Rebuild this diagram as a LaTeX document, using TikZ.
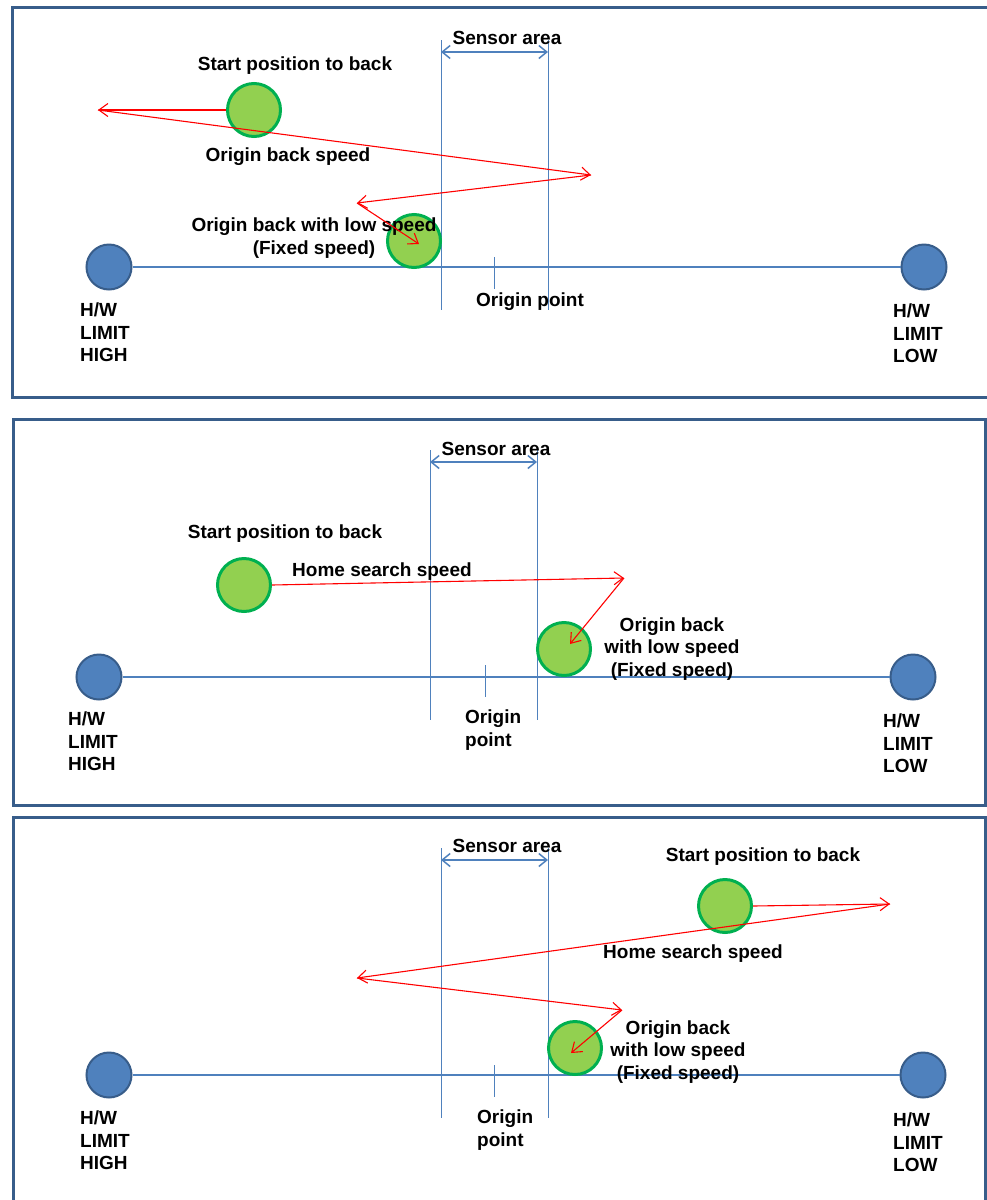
\documentclass[tikz,border=0pt]{standalone}
\usepackage{fontspec}
\setmainfont{Liberation Sans}
\usepackage{tikz}
\usetikzlibrary{arrows.meta,positioning}
\definecolor{framec}{RGB}{56,93,138}
\definecolor{limfill}{RGB}{79,129,189}
\definecolor{limdraw}{RGB}{56,93,138}
\definecolor{railc}{RGB}{79,129,189}
\definecolor{grnfill}{RGB}{146,208,80}
\definecolor{grndraw}{RGB}{0,176,80}
\tikzstyle{frame} = [draw=framec,line width=3pt]
\tikzstyle{limit} = [circle,fill=limfill,draw=limdraw,line width=2pt,minimum size=45pt,inner sep=0]
\tikzstyle{slider} = [circle,fill=grnfill,draw=grndraw,line width=3pt,minimum size=53pt,inner sep=0]
\tikzstyle{rail} = [draw=railc,line width=1.5pt]
\tikzstyle{sensor} = [draw=railc,line width=1pt]
\tikzstyle{span} = [draw=railc,line width=1.5pt,{Straight Barb[length=8pt,width=13pt]}-{Straight Barb[length=8pt,width=13pt]}]
\tikzstyle{move} = [draw=red,line width=1.1pt,-{Straight Barb[length=9pt,width=13pt]}]
\tikzstyle{lbl} = [font=\bfseries\fontsize{19}{22.5}\selectfont,inner sep=0pt]

\begin{document}
\begin{tikzpicture}[x=1pt,y=-1pt]
    \useasboundingbox (0,0) rectangle (987,1200);
    \fill[white] (0,0) rectangle (987,1200);

    % panel 1
    \draw[frame] (12,7) rectangle (995,397);
    \node[limit] (hi1) at (109,267) {};
    \node[limit] (lo1) at (924,267) {};
    \draw[rail] (hi1) to (lo1);
    \draw[sensor] (441,40) to (441,310) (548,40) to (548,310);
    \coordinate (sl1) at (441,52);
    \coordinate (sr1) at (548,52);
    \draw[span] (sl1) to (sr1);
    \node[lbl] (sen1) at (507,38) {Sensor area};
    \draw[sensor] (494,257) to (494,289);
    \node[lbl] (org1) at (530,302) {Origin point};
    \node[lbl,align=left,anchor=north west] (th1) at (80,303) {H/W\\LIMIT\\HIGH};
    \node[lbl,align=left,anchor=north west] (tl1) at (893,304) {H/W\\LIMIT\\LOW};
    \node[slider] (st1) at (254,110) {};
    \node[slider] (lw1) at (414,241) {};
    \node[lbl] (ts1) at (295,66) {Start position to back};
    \node[lbl] (tb1) at (288,157) {Origin back speed};
    \node[lbl,align=center] (tf1) at (314,238) {Origin back with low speed\\(Fixed speed)};
    \coordinate (a1) at (98,110);
    \coordinate (b1) at (591,175);
    \coordinate (c1) at (357,203);
    \coordinate (d1) at (419,244);
    \draw[move] (st1.west) to (a1);
    \draw[move] (a1) to (b1);
    \draw[move] (b1) to (c1);
    \draw[move] (c1) to (d1);

    % panel 2
    \draw[frame] (13,419) rectangle (985,805);
    \node[limit] (hi2) at (99,677) {};
    \node[limit] (lo2) at (913,677) {};
    \draw[rail] (hi2) to (lo2);
    \draw[sensor] (430,450) to (430,720) (537,450) to (537,720);
    \coordinate (sl2) at (430,462);
    \coordinate (sr2) at (537,462);
    \draw[span] (sl2) to (sr2);
    \node[lbl] (sen2) at (496,449) {Sensor area};
    \draw[sensor] (485,665) to (485,697);
    \node[lbl,align=left,anchor=north west] (org2) at (465,710) {Origin\\point};
    \node[lbl,align=left,anchor=north west] (th2) at (68,712) {H/W\\LIMIT\\HIGH};
    \node[lbl,align=left,anchor=north west] (tl2) at (883,714) {H/W\\LIMIT\\LOW};
    \node[slider] (st2) at (244,585) {};
    \node[slider] (lw2) at (564,649) {};
    \node[lbl] (ts2) at (285,534) {Start position to back};
    \node[lbl] (th2s) at (382,572) {Home search speed};
    \node[lbl,align=center] (tf2) at (672,649) {Origin back\\with low speed\\(Fixed speed)};
    \coordinate (a2) at (624,578);
    \coordinate (b2) at (570,644);
    \draw[move] (st2.east) to (a2);
    \draw[move] (a2) to (b2);

    % panel 3
    \draw[frame] (13,817) rectangle (985,1210);
    \node[limit] (hi3) at (109,1075) {};
    \node[limit] (lo3) at (923,1075) {};
    \draw[rail] (hi3) to (lo3);
    \draw[sensor] (441,848) to (441,1118) (548,848) to (548,1118);
    \coordinate (sl3) at (441,860);
    \coordinate (sr3) at (548,860);
    \draw[span] (sl3) to (sr3);
    \node[lbl] (sen3) at (507,846) {Sensor area};
    \draw[sensor] (494,1065) to (494,1097);
    \node[lbl,align=left,anchor=north west] (org3) at (477,1110) {Origin\\point};
    \node[lbl,align=left,anchor=north west] (th3) at (80,1111) {H/W\\LIMIT\\HIGH};
    \node[lbl,align=left,anchor=north west] (tl3) at (893,1113) {H/W\\LIMIT\\LOW};
    \node[slider] (st3) at (725,906) {};
    \node[slider] (lw3) at (575,1048) {};
    \node[lbl] (ts3) at (763,857) {Start position to back};
    \node[lbl] (th3s) at (693,954) {Home search speed};
    \node[lbl,align=center] (tf3) at (678,1052) {Origin back\\with low speed\\(Fixed speed)};
    \coordinate (a3) at (890,904);
    \coordinate (b3) at (357,978);
    \coordinate (c3) at (622,1010);
    \coordinate (d3) at (571,1053);
    \draw[move] (st3.east) to (a3);
    \draw[move] (a3) to (b3);
    \draw[move] (b3) to (c3);
    \draw[move] (c3) to (d3);
\end{tikzpicture}
\end{document}
